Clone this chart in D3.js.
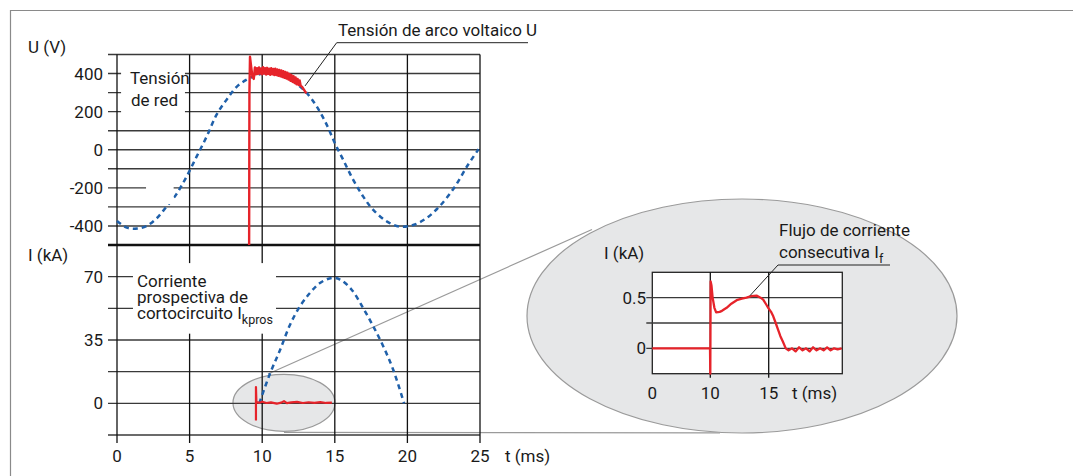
<!DOCTYPE html>
<html><head><meta charset="utf-8">
<script src="https://cdn.jsdelivr.net/npm/d3@7"></script>
<style>
html,body{margin:0;padding:0;background:#fff;}
svg text{font-family:Roboto,'Noto Sans',sans-serif;font-size:17px;fill:#1a1a1a;}
</style></head>
<body>
<svg id="c" width="1073" height="476"></svg>
<script>
// ---------- data ----------
const xTicks = [0, 5, 10, 15, 20, 25];
const uTickLabels = [400, 200, 0, -200, -400];
const uGrid = [500, 400, 300, 200, 100, 0, -100, -200, -300, -400];
const iTickLabels = [70, 35, 0];
const iGrid = [70, 52.5, 35, 17.5, 0, -17.5];
// mains voltage (dashed blue), t ms / U V
const uMainsT = [0, 0.67, 1.4, 2.04, 2.73, 3.42, 4.06, 4.8, 5.49, 6.18, 6.86, 7.55, 8.24, 8.93, 9.4, 10, 10.8, 11.6, 12.4, 13.07, 13.75, 14.44, 15.0, 15.58, 16.27, 16.96, 17.65, 18.6, 19.49, 20.4, 21.3, 22.2, 23.2, 24.1, 24.9];
const uMainsV = [-374, -409, -414, -400, -360, -298, -237, -140, -35, 70, 184, 263, 330, 368, 385, 400, 405, 390, 345, 298, 228, 132, 35, -53, -158, -246, -316, -377, -404, -395, -360, -298, -202, -88, 3];
// arc voltage (red)
const uArcT = [9.1, 9.12, 9.16, 9.25, 9.33, 9.42, 9.5, 9.57, 9.64, 9.71, 9.78, 9.85, 9.92, 9.99, 10.06, 10.13, 10.2, 10.27, 10.34, 10.41, 10.48, 10.55, 10.62, 10.69, 10.76, 10.83, 10.9, 10.97, 11.04, 11.11, 11.18, 11.25, 11.32, 11.39, 11.46, 11.53, 11.6, 11.67, 11.74, 11.81, 11.88, 11.95, 12.02, 12.09, 12.16, 12.23, 12.3, 12.37, 12.44, 12.51, 12.58, 12.65, 12.75, 12.85, 12.95, 13.05];
const uArcV = [-500, 300, 488, 430, 382, 372, 432, 396, 428, 398, 432, 400, 427, 396, 433, 400, 428, 395, 430, 398, 426, 394, 428, 396, 424, 392, 425, 392, 421, 388, 419, 386, 416, 382, 412, 378, 408, 374, 404, 368, 398, 362, 392, 356, 386, 350, 380, 344, 372, 340, 364, 336, 330, 318, 306, 296];
// prospective short-circuit current (dashed blue), t ms / I kA
const iProsT = [9.8, 10.54, 11.23, 11.91, 12.6, 13.29, 13.98, 14.78, 15.36, 16.16, 16.96, 17.66, 18.35, 19.03, 19.77];
const iProsV = [0, 16.5, 29.5, 43.3, 53.6, 61, 66.5, 69.3, 68.4, 62.8, 52.5, 42.4, 31.3, 18.4, 0];
// follow current (red) on the main scale
const iFollowT = [9.57, 9.57, 9.6, 9.8, 10.0, 10.3, 10.6, 11.0, 11.3, 11.5, 11.7, 12.0, 12.4, 12.8, 13.2, 13.6, 14.0, 14.4, 14.8];
const iFollowV = [-9.5, 9, 0.8, 0.3, 0.9, 0.2, 0.5, -0.2, 0.4, 1.2, 0.1, 0.5, 0.8, 0.2, 0.6, 0.3, 0.7, 0.2, 0.4];
// inset (zoomed follow current)
const insetXTicks = [0, 10, 15];
const insetYGrid = [0.5, 0.25, 0];
const insetYLabels = [0.5, 0];
const insetT = [0, 9.95, 10.0, 10.03, 10.1, 10.2, 10.35, 10.5, 10.8, 11.0, 11.4, 11.8, 12.26, 12.7, 13.1, 13.5, 13.96, 14.3, 14.53, 14.8, 14.96, 15.2, 15.39, 15.6, 15.8, 16.0, 16.2, 16.46, 16.7, 17.0, 17.3, 17.6, 17.9, 18.2, 18.5, 18.8, 19.1, 19.4, 19.7, 20.0, 20.3, 20.6, 20.9, 21.25];
const insetI = [0, 0, -0.25, 0.66, 0.62, 0.5, 0.4, 0.355, 0.36, 0.37, 0.40, 0.44, 0.475, 0.49, 0.50, 0.515, 0.52, 0.50, 0.48, 0.43, 0.40, 0.36, 0.316, 0.25, 0.185, 0.12, 0.07, 0.0, -0.02, 0.0, -0.03, 0.01, -0.02, 0.0, -0.03, 0.01, -0.02, 0.0, -0.02, 0.01, -0.02, 0.0, -0.01, 0.0];

// ---------- drawing ----------
const svg = d3.select('#c');
const RED = '#e6232a', BLUE = '#1f60aa', GRID = '#3a3a3a';
const x = d3.scaleLinear([0, 25], [117, 480]);
const yU = d3.scaleLinear([-500, 500], [245, 54.5]);
const yI = d3.scaleLinear([-17.5, 87.5], [435, 245]);
const xL = 108;

// frame
svg.append('path').attr('d', 'M10.5,476 V10.5 H1073').attr('fill', 'none').attr('stroke', '#8a8a8a').attr('stroke-width', 1.2);

// connecting lines to inset
const g0 = svg.append('g');
g0.append('line').attr('x1', 268).attr('y1', 374).attr('x2', 592).attr('y2', 229.5).attr('stroke', '#9a9a9a').attr('stroke-width', 1.2);
g0.append('line').attr('x1', x(11.5)).attr('y1', yI(-16)).attr('x2', 720).attr('y2', yI(-16.3)).attr('stroke', '#9a9a9a').attr('stroke-width', 1.2);
// small ellipse
svg.append('ellipse').attr('cx', x(11.5)).attr('cy', yI(0.3)).attr('rx', 51).attr('ry', 28.5)
  .attr('fill', '#e6e7e8').attr('stroke', '#9a9a9a').attr('stroke-width', 1.2);

// top grid
svg.append('g').selectAll('line').data(uGrid).join('line')
  .attr('x1', xL).attr('x2', x(25)).attr('y1', d => yU(d)).attr('y2', d => yU(d))
  .attr('stroke', GRID).attr('stroke-width', 1.4);
// bottom grid
svg.append('g').selectAll('line').data(iGrid).join('line')
  .attr('x1', xL).attr('x2', x(25)).attr('y1', d => yI(d)).attr('y2', d => yI(d))
  .attr('stroke', GRID).attr('stroke-width', 1.4);
// verticals
svg.append('g').selectAll('line').data(xTicks).join('line')
  .attr('x1', d => x(d)).attr('x2', d => x(d)).attr('y1', yU(500)).attr('y2', yI(-17.5) + 8)
  .attr('stroke', '#111').attr('stroke-width', 1.3);
// thick divider
svg.append('line').attr('x1', xL).attr('x2', x(25)).attr('y1', yU(-500)).attr('y2', yU(-500))
  .attr('stroke', '#111').attr('stroke-width', 2.6);

// tick labels
svg.append('g').selectAll('text').data(uTickLabels).join('text')
  .attr('x', 103).attr('y', d => yU(d) + 6).attr('text-anchor', 'end').text(d => d);
svg.append('g').selectAll('text').data(iTickLabels).join('text')
  .attr('x', 103).attr('y', d => yI(d) + 6).attr('text-anchor', 'end').text(d => d);
svg.append('g').selectAll('text').data(xTicks).join('text')
  .attr('x', d => x(d)).attr('y', 462).attr('text-anchor', 'middle').text(d => d);
svg.append('text').attr('x', 505).attr('y', 462).text('t (ms)');
svg.append('text').attr('x', 28).attr('y', 53).text('U (V)');
svg.append('text').attr('x', 28).attr('y', 261).text('I (kA)');

// curves
const lineU = d3.line().x(d => x(d[0])).y(d => yU(d[1]));
const lineI = d3.line().x(d => x(d[0])).y(d => yI(d[1]));
svg.append('path').datum(d3.zip(uMainsT, uMainsV)).attr('d', lineU.curve(d3.curveCatmullRom))
  .attr('fill', 'none').attr('stroke', BLUE).attr('stroke-width', 2.5).attr('stroke-dasharray', '5,4');
svg.append('path').datum(d3.zip(iProsT, iProsV)).attr('d', lineI.curve(d3.curveCatmullRom))
  .attr('fill', 'none').attr('stroke', BLUE).attr('stroke-width', 2.5).attr('stroke-dasharray', '5,4');

// white patches (label backgrounds / gaps)
svg.append('rect').attr('x', x(2.0)).attr('y', yU(-165)).attr('width', x(3.9) - x(2.0)).attr('height', yU(-285) - yU(-165)).attr('fill', '#fff');
svg.append('rect').attr('x', x(0.28)).attr('y', yU(470)).attr('width', x(4.68) - x(0.28)).attr('height', yU(165) - yU(470)).attr('fill', '#fff');
svg.append('rect').attr('x', x(1.1)).attr('y', yI(77.5)).attr('width', x(10.95) - x(1.1)).attr('height', yI(38.5) - yI(77.5)).attr('fill', '#fff');

const redLineU = d3.line().x(d => x(d[0])).y(d => yU(d[1]));
svg.append('path').datum(d3.zip(uArcT, uArcV)).attr('d', redLineU)
  .attr('fill', 'none').attr('stroke', RED).attr('stroke-width', 2.4).attr('stroke-linejoin', 'round');
const redLineI = d3.line().x(d => x(d[0])).y(d => yI(d[1]));
svg.append('path').datum(d3.zip(iFollowT, iFollowV)).attr('d', redLineI)
  .attr('fill', 'none').attr('stroke', RED).attr('stroke-width', 2.2).attr('stroke-linejoin', 'round');

// labels
const t1 = svg.append('text').attr('x', 130);
t1.append('tspan').attr('x', 130).attr('y', 84).text('Tensión');
t1.append('tspan').attr('x', 131).attr('y', 106).text('de red');
const t2 = svg.append('text');
t2.append('tspan').attr('x', 137).attr('y', 287).text('Corriente');
t2.append('tspan').attr('x', 137).attr('y', 303).text('prospectiva de');
t2.append('tspan').attr('x', 137).attr('y', 319).text('cortocircuito I');
t2.append('tspan').attr('dy', 5).attr('font-size', 12.5).text('kpros');
svg.append('text').attr('x', 338).attr('y', 36).text('Tensión de arco voltaico U');
svg.append('path').attr('d', `M${x(12.95)},${yU(335)} L336.7,42.7 H528`).attr('fill', 'none').attr('stroke', '#222').attr('stroke-width', 1);

// ---------- inset ----------
svg.append('ellipse').attr('cx', 742).attr('cy', 316).attr('rx', 215).attr('ry', 117)
  .attr('fill', '#e6e7e8').attr('stroke', '#9a9a9a').attr('stroke-width', 1.2);
const xi = d3.scaleLinear([0, 10, 15], [652.3, 710.3, 768.7]);
const yi = d3.scaleLinear([-0.25, 0.75], [373.7, 272.3]);
const xiR = 842.3;
svg.append('rect').attr('x', xi(0)).attr('y', yi(0.75)).attr('width', xiR - xi(0)).attr('height', yi(-0.25) - yi(0.75))
  .attr('fill', '#fff').attr('stroke', '#222').attr('stroke-width', 1.3);
svg.append('g').selectAll('line').data(insetYGrid).join('line')
  .attr('x1', xi(0) - 6).attr('x2', xiR).attr('y1', d => yi(d)).attr('y2', d => yi(d))
  .attr('stroke', GRID).attr('stroke-width', 1.3);
svg.append('g').selectAll('line').data([10, 15]).join('line')
  .attr('x1', d => xi(d)).attr('x2', d => xi(d)).attr('y1', yi(0.75)).attr('y2', yi(-0.25) + 4)
  .attr('stroke', '#111').attr('stroke-width', 1.3);
svg.append('g').selectAll('text').data(insetYLabels).join('text')
  .attr('x', 646).attr('y', d => yi(d) + 6).attr('text-anchor', 'end').text(d => d);
svg.append('g').selectAll('text').data(insetXTicks).join('text')
  .attr('x', d => xi(d)).attr('y', 399).attr('text-anchor', 'middle').text(d => d);
svg.append('text').attr('x', 792).attr('y', 399).text('t (ms)');
svg.append('text').attr('x', 604).attr('y', 259).text('I (kA)');
const lineIn = d3.line().x(d => xi(d[0])).y(d => yi(d[1]));
svg.append('path').datum(d3.zip(insetT, insetI)).attr('d', lineIn)
  .attr('fill', 'none').attr('stroke', RED).attr('stroke-width', 2.3).attr('stroke-linejoin', 'round');
const t3 = svg.append('text');
t3.append('tspan').attr('x', 779).attr('y', 236).text('Flujo de corriente');
t3.append('tspan').attr('x', 779).attr('y', 258).text('consecutiva I');
t3.append('tspan').attr('dy', 5).attr('font-size', 12.5).text('f');
svg.append('path').attr('d', `M${xi(13.4)},${yi(0.52)} L778,265 H890`).attr('fill', 'none').attr('stroke', '#222').attr('stroke-width', 1);
</script>
</body></html>
